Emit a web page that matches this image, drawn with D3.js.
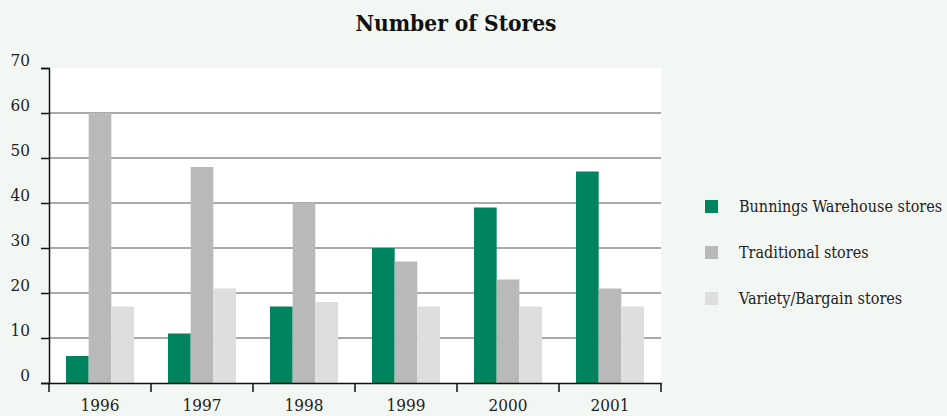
<!DOCTYPE html>
<html><head><meta charset="utf-8">
<script src="https://cdn.jsdelivr.net/npm/d3@7"></script>
<style>
html,body{margin:0;padding:0;background:#f3f7f4;}
svg{display:block;font-family:"DejaVu Serif Condensed","Liberation Serif",serif;}
</style></head><body>
<svg id="c" width="947" height="416"></svg>
<script>
const years = ["1996","1997","1998","1999","2000","2001"];
const seriesNames = ["Bunnings Warehouse stores","Traditional stores","Variety/Bargain stores"];
const bunnings = [6, 11, 17, 30, 39, 47];
const traditional = [60, 48, 40, 27, 23, 21];
const variety = [17, 21, 18, 17, 17, 17];
const yTicks = [0,10,20,30,40,50,60,70];
const colors = ["#00845f","#b9b9b9","#dedede"];
const series = [bunnings, traditional, variety];
const FONT = '"DejaVu Serif Condensed","Liberation Serif",serif';

const svg = d3.select("#c");
const m = {l:49, r:661, t:68, b:383};
const x = d3.scaleBand().domain(years).range([m.l, m.r]).paddingInner(0).paddingOuter(0);
const y = d3.scaleLinear().domain([0,70]).range([m.b, m.t]);
const x1 = d3.scaleBand().domain(d3.range(3)).range([17, x.bandwidth()-17]);

svg.append("rect").attr("x",m.l).attr("y",m.t).attr("width",m.r-m.l).attr("height",m.b-m.t).attr("fill","#fff");

svg.append("text").attr("x",456).attr("y",31).attr("text-anchor","middle")
  .attr("font-size",22.5).attr("font-weight","bold").attr("fill","#111").text("Number of Stores");

// gridlines
svg.append("g").selectAll("line").data(yTicks.filter(d=>d>0&&d<70)).join("line")
  .attr("x1",m.l).attr("x2",m.r).attr("y1",d=>y(d)).attr("y2",d=>y(d))
  .attr("stroke","#555").attr("stroke-width",1.2);

// bars
const g = svg.append("g");
years.forEach((yr,i)=>{
  series.forEach((s,j)=>{
    g.append("rect").attr("x",x(yr)+x1(j)).attr("width",x1.bandwidth())
      .attr("y",y(s[i])).attr("height",y(0)-y(s[i])).attr("fill",colors[j]);
  });
});

// y axis
const ya = svg.append("g").attr("transform",`translate(${m.l},0)`)
  .call(d3.axisLeft(y).tickValues(yTicks).tickSize(8).tickPadding(11))
  .attr("font-family",FONT).attr("font-size",17);
ya.select(".domain").attr("stroke","#111").attr("stroke-width",1.5);
ya.selectAll(".tick line").attr("stroke","#111").attr("stroke-width",1.5);
ya.selectAll("text").attr("fill","#222").attr("dy","-0.15em");

// x axis
const xa = svg.append("g").attr("transform",`translate(0,${m.b})`)
  .call(d3.axisBottom(x).tickSize(0).tickPadding(16))
  .attr("font-family",FONT).attr("font-size",17);
xa.select(".domain").attr("stroke","#111").attr("stroke-width",1.5);
xa.selectAll("text").attr("fill","#222");
const bounds = years.map(d=>x(d)).concat([m.r]);
xa.append("g").selectAll("line").data(bounds).join("line")
  .attr("x1",d=>d).attr("x2",d=>d).attr("y1",0).attr("y2",9)
  .attr("stroke","#111").attr("stroke-width",1.5);

// legend
const lg = svg.append("g");
seriesNames.forEach((n,i)=>{
  lg.append("rect").attr("x",705).attr("y",200+i*46).attr("width",13).attr("height",13).attr("fill",colors[i]);
  lg.append("text").attr("x",739).attr("y",212+i*46).attr("font-size",16).attr("fill","#222").text(n);
});
</script>
</body></html>
